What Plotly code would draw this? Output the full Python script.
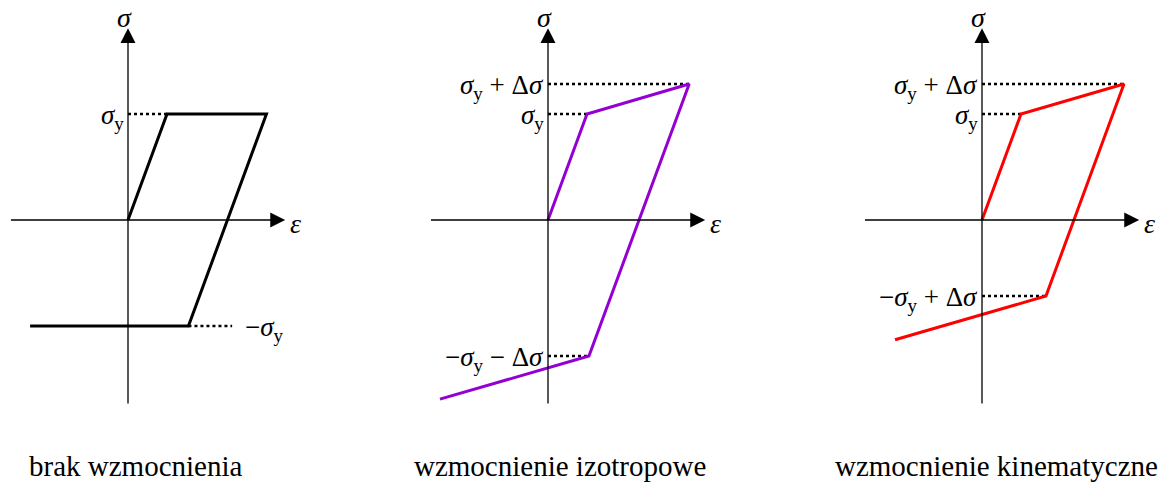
import plotly.graph_objects as go

# Stress-strain paths (strain in units of eps_y, stress in units of sigma_y)
strain_none = [0, 1, 3.55, 1.55, -2.51]
stress_none = [0, 1, 1, -1, -1]

strain_iso = [0, 1, 3.62, 1.05, -2.77]
stress_iso = [0, 1, 1.283, -1.283, -1.69]

strain_kin = [0, 1, 3.64, 1.64, -2.23]
stress_kin = [0, 1, 1.283, -0.717, -1.13]

# Axis extents (tail, tip)
eps_axis = [-3.04, 4.03]
sig_axis = [-1.745, 1.81]

titles = ["brak wzmocnienia", "wzmocnienie izotropowe", "wzmocnienie kinematyczne"]
colors = ["#000000", "#9400D3", "#FF0000"]

# Dotted guide levels per panel: (stress level, strain start, strain end, label, side)
guides_none = [(1, 0, 1, "<i>σ</i><sub>y</sub>", "left"),
               (-1, 1.55, 2.67, "−<i>σ</i><sub>y</sub>", "right")]
guides_iso = [(1.283, 0, 3.62, "<i>σ</i><sub>y</sub> + Δ<i>σ</i>", "left"),
              (1, 0, 1, "<i>σ</i><sub>y</sub>", "left"),
              (-1.283, 0, 1.05, "−<i>σ</i><sub>y</sub> − Δ<i>σ</i>", "left")]
guides_kin = [(1.283, 0, 3.64, "<i>σ</i><sub>y</sub> + Δ<i>σ</i>", "left"),
              (1, 0, 1, "<i>σ</i><sub>y</sub>", "left"),
              (-0.717, 0, 1.64, "−<i>σ</i><sub>y</sub> + Δ<i>σ</i>", "left")]

W, H = 1165, 484
EU, SU = 39.0, 106.0          # pixels per strain / stress unit
y_zero_px = 220
panels = [
    # (pixel span of panel, pixel x of origin)
    ((0, 390), 128),
    ((390, 780), 548),
    ((780, 1165), 982),
]
title_x = [136, 560, 997]

FONT = "Liberation Serif, Times New Roman, Times, DejaVu Serif, serif"
fig = go.Figure()
annotations = []

data = [(strain_none, stress_none, guides_none),
        (strain_iso, stress_iso, guides_iso),
        (strain_kin, stress_kin, guides_kin)]

yr = [-(H - y_zero_px) / SU, y_zero_px / SU]

for i, ((px0, px1), ox) in enumerate(panels):
    n = "" if i == 0 else str(i + 1)
    xa, ya = "x" + n, "y" + n
    fig.update_layout(**{
        "xaxis" + n: dict(domain=[px0 / W, px1 / W],
                          range=[(px0 - ox) / EU, (px1 - ox) / EU],
                          visible=False, anchor=ya),
        "yaxis" + n: dict(domain=[0, 1], range=yr, visible=False, anchor=xa),
    })
    strain, stress, guides = data[i]

    # dotted guides
    for lvl, e0, e1, lab, side in guides:
        fig.add_trace(go.Scatter(x=[e0, e1], y=[lvl, lvl], mode="lines",
                                 line=dict(color="black", width=2.5, dash="3px,3px"),
                                 xaxis=xa, yaxis=ya, showlegend=False, hoverinfo="skip"))
        if side == "left":
            annotations.append(dict(x=0, y=lvl, xref=xa, yref=ya, text=lab,
                                    showarrow=False, xanchor="right", yanchor="middle",
                                    xshift=-2, yshift=-3,
                                    font=dict(family=FONT, size=27, color="black")))
        else:
            annotations.append(dict(x=e1, y=lvl, xref=xa, yref=ya, text=lab,
                                    showarrow=False, xanchor="left", yanchor="middle",
                                    xshift=11, yshift=-3,
                                    font=dict(family=FONT, size=27, color="black")))

    # axes with arrowheads
    annotations.append(dict(x=eps_axis[1], y=0, ax=eps_axis[0], ay=0,
                            xref=xa, yref=ya, axref=xa, ayref=ya, text="",
                            showarrow=True, arrowhead=2, arrowsize=2.3, arrowwidth=1.3,
                            arrowcolor="black"))
    annotations.append(dict(x=0, y=sig_axis[1], ax=0, ay=sig_axis[0],
                            xref=xa, yref=ya, axref=xa, ayref=ya, text="",
                            showarrow=True, arrowhead=2, arrowsize=2.3, arrowwidth=1.3,
                            arrowcolor="black"))
    annotations.append(dict(x=eps_axis[1], y=0, xref=xa, yref=ya, text="<i>ε</i>",
                            showarrow=False, xanchor="left", yanchor="middle",
                            xshift=3, yshift=-3,
                            font=dict(family=FONT, size=28, color="black")))
    annotations.append(dict(x=0, y=sig_axis[1], xref=xa, yref=ya, text="<i>σ</i>",
                            showarrow=False, xanchor="center", yanchor="middle",
                            xshift=-4, yshift=11,
                            font=dict(family=FONT, size=28, color="black")))

    # stress-strain path
    fig.add_trace(go.Scatter(x=strain, y=stress, mode="lines",
                             line=dict(color=colors[i], width=3),
                             xaxis=xa, yaxis=ya, showlegend=False, hoverinfo="skip"))

    annotations.append(dict(x=title_x[i] / W, y=1 - 466 / H, xref="paper", yref="paper",
                            text=titles[i], showarrow=False, xanchor="center",
                            yanchor="middle",
                            font=dict(family=FONT, size=29, color="black")))

fig.update_layout(width=W, height=H, margin=dict(l=0, r=0, t=0, b=0),
                  paper_bgcolor="white", plot_bgcolor="white",
                  annotations=annotations, showlegend=False)

fig.write_html("out.html")
